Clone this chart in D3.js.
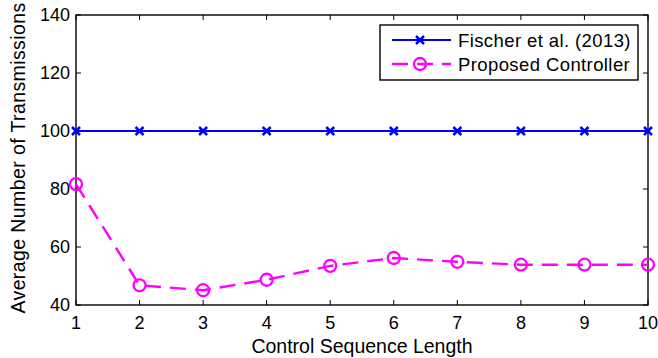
<!DOCTYPE html>
<html><head><meta charset="utf-8">
<script src="https://cdn.jsdelivr.net/npm/d3@7"></script>
<style>body{margin:0;background:#fff}svg{display:block}</style>
</head><body>
<svg id="c" width="658" height="358"></svg>
<script>
const categories = [1,2,3,4,5,6,7,8,9,10];
const fischer = [100,100,100,100,100,100,100,100,100,100];
const proposed = [81.7,46.8,45.1,48.7,53.5,56.2,54.9,53.9,53.9,53.9];
const yTicks = [40,60,80,100,120,140];
const seriesNames = ["Fischer et al. (2013)","Proposed Controller"];

const svg = d3.select("#c");
const L=76, R=648, T=15, B=305;
const x = d3.scaleLinear().domain([1,10]).range([L,R]);
const y = d3.scaleLinear().domain([40,140]).range([B,T]);
const font = "Liberation Sans, Arial, Helvetica, sans-serif";

// ticks on all sides, inward
const g = svg.append("g").attr("stroke","#000").attr("stroke-width",1);
categories.forEach(v=>{
  g.append("line").attr("x1",x(v)).attr("x2",x(v)).attr("y1",B).attr("y2",B-5);
  g.append("line").attr("x1",x(v)).attr("x2",x(v)).attr("y1",T).attr("y2",T+5);
});
yTicks.forEach(v=>{
  g.append("line").attr("x1",L).attr("x2",L+5).attr("y1",y(v)).attr("y2",y(v));
  g.append("line").attr("x1",R).attr("x2",R-5).attr("y1",y(v)).attr("y2",y(v));
});
svg.append("rect").attr("x",L).attr("y",T).attr("width",R-L).attr("height",B-T)
  .attr("fill","none").attr("stroke","#000").attr("stroke-width",1.4);

// tick labels
svg.append("g").selectAll("text").data(categories).join("text")
  .attr("x",d=>x(d)).attr("y",329).attr("text-anchor","middle")
  .attr("font-family",font).attr("font-size",18).text(d=>d);
svg.append("g").selectAll("text").data(yTicks).join("text")
  .attr("x",70).attr("y",d=>y(d)+6).attr("text-anchor","end")
  .attr("font-family",font).attr("font-size",18).text(d=>d);

// axis titles
svg.append("text").attr("x",(L+R)/2).attr("y",353).attr("text-anchor","middle")
  .attr("font-family",font).attr("font-size",19.5).text("Control Sequence Length");
svg.append("text").attr("transform",`translate(25,${(T+B)/2 - 2}) rotate(-90)`)
  .attr("text-anchor","middle").attr("font-family",font).attr("font-size",19.5)
  .attr("letter-spacing",0.4)
  .text("Average Number of Transmissions");

const line = d3.line().x((d,i)=>x(categories[i])).y(d=>y(d));
const blue="#0000ff", mag="#ff00ff";

// blue series
svg.append("path").datum(fischer).attr("d",line).attr("fill","none")
  .attr("stroke",blue).attr("stroke-width",2.2);
function xMark(sel,cx,cy,s,col){
  sel.append("path").attr("d",`M${cx-s},${cy-s}L${cx+s},${cy+s}M${cx-s},${cy+s}L${cx+s},${cy-s}`)
    .attr("stroke",col).attr("stroke-width",2.5).attr("fill","none");
}
fischer.forEach((v,i)=>xMark(svg,x(categories[i]),y(v),4,blue));

// magenta series
svg.append("path").datum(proposed).attr("d",line).attr("fill","none")
  .attr("stroke",mag).attr("stroke-width",2.4).attr("stroke-dasharray","16,9");
svg.append("g").selectAll("circle").data(proposed).join("circle")
  .attr("cx",(d,i)=>x(categories[i])).attr("cy",d=>y(d)).attr("r",6)
  .attr("fill","none").attr("stroke",mag).attr("stroke-width",2.3);

// legend
const lg = svg.append("g");
lg.append("rect").attr("x",380).attr("y",25).attr("width",258).attr("height",55)
  .attr("fill","#fff").attr("stroke","#000").attr("stroke-width",1.4);
lg.append("line").attr("x1",392).attr("x2",451).attr("y1",40).attr("y2",40)
  .attr("stroke",blue).attr("stroke-width",2.2);
xMark(lg,420,40,4,blue);
lg.append("line").attr("x1",392).attr("x2",451).attr("y1",64).attr("y2",64)
  .attr("stroke",mag).attr("stroke-width",2.4).attr("stroke-dasharray","16,9");
lg.append("circle").attr("cx",420).attr("cy",64).attr("r",6)
  .attr("fill","none").attr("stroke",mag).attr("stroke-width",2.3);
lg.selectAll("text.l").data(seriesNames).join("text")
  .attr("x",458).attr("y",(d,i)=>46.5+i*24).attr("font-family",font).attr("font-size",18.5)
  .attr("letter-spacing",0.4)
  .text(d=>d);
</script>
</body></html>
